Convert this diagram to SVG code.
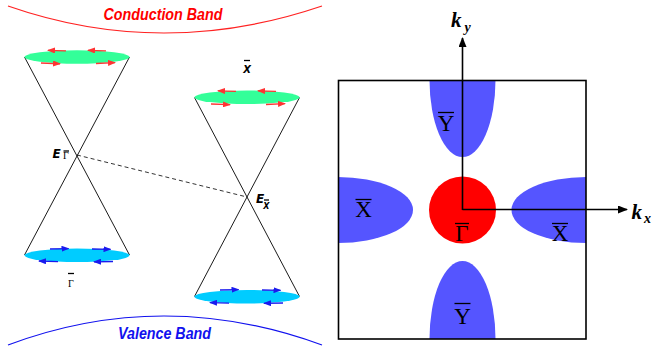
<svg xmlns="http://www.w3.org/2000/svg" width="652" height="352" viewBox="0 0 652 352">
<defs>
<marker id="hr" markerWidth="8" markerHeight="6" refX="7" refY="3" orient="auto" markerUnits="userSpaceOnUse"><path d="M0,0 L8,3 L0,6 Z" fill="#FF3333"/></marker>
<marker id="hb" markerWidth="8" markerHeight="6" refX="7" refY="3" orient="auto" markerUnits="userSpaceOnUse"><path d="M0,0 L8,3 L0,6 Z" fill="#1a1aee"/></marker>
<marker id="hk" markerWidth="10" markerHeight="8" refX="9" refY="4" orient="auto" markerUnits="userSpaceOnUse"><path d="M0,0 L10,4 L0,8 Z" fill="#000"/></marker>
</defs>
<style>
.cone{stroke:#000;stroke-width:0.9;fill:none}
.ra{stroke:#FF3333;stroke-width:1.3;fill:none;marker-end:url(#hr)}
.ba{stroke:#1a1aee;stroke-width:1.3;fill:none;marker-end:url(#hb)}
.green{fill:#33FF99}
.cyan{fill:#00CCFF}
.pocket{fill:#5555FF}
.band{font-family:"Liberation Sans",Arial,sans-serif;font-weight:bold;font-style:italic;font-size:17px;text-anchor:middle}
.el{font-family:"DejaVu Sans","Liberation Sans",sans-serif;font-weight:bold;font-style:italic;font-size:12px}
.sub{font-family:"Liberation Serif",serif;font-size:10px}
.bz{font-family:"Liberation Serif",serif;font-size:23px;text-anchor:middle}
.k{font-family:"Liberation Serif",serif;font-weight:bold;font-style:italic}
.bar{stroke:#000;stroke-width:1.3}
.ax{stroke:#000;stroke-width:1.6;fill:none;marker-end:url(#hk)}
</style>
<rect width="652" height="352" fill="#fff"/>

<g id="conduction-band">
<path d="M8,6 Q163,60 322,6" stroke="#FF2222" stroke-width="1.2" fill="none"/>
<text class="band" x="163" y="20" fill="#FF0000" textLength="119" lengthAdjust="spacingAndGlyphs">Conduction Band</text>
</g>
<g id="valence-band">
<path d="M8,345 Q163,287 322,345" stroke="#1111EE" stroke-width="1.2" fill="none"/>
<text class="band" x="164.5" y="339" fill="#1111EE" textLength="93" lengthAdjust="spacingAndGlyphs">Valence Band</text>
</g>

<g id="connectors">
<path class="cone" d="M24.5,57 L129.5,255"/>
<path class="cone" d="M129.5,57 L24.5,255"/>
<path class="cone" d="M194.5,97.5 L299.5,296.5"/>
<path class="cone" d="M299.5,97.5 L194.5,296.5"/>
<path d="M77,155 L247,197" stroke="#000" stroke-width="0.8" stroke-dasharray="4,3" fill="none"/>
</g>

<g id="gamma-upper">
<ellipse class="green" cx="77" cy="57" rx="52.5" ry="6.8"/>
<path class="ra" d="M66,50.8 L48,50.3"/>
<path class="ra" d="M106,50.8 L88,50.3"/>
<path class="ra" d="M41,63 L60,63.8"/>
<path class="ra" d="M96,63.5 L115,62.6"/>
</g>
<g id="gamma-lower">
<ellipse class="cyan" cx="77" cy="255.3" rx="52.5" ry="6.8"/>
<path class="ba" d="M50,249 L68.5,248.6"/>
<path class="ba" d="M92,249 L110.5,249.3"/>
<path class="ba" d="M58,261.7 L39,261"/>
<path class="ba" d="M113,261.5 L94,261.8"/>
<text class="sub" x="71" y="287" text-anchor="middle" font-size="13px">Γ</text>
<line class="bar" x1="68" y1="273.5" x2="74" y2="273.5" stroke-width="1"/>
</g>
<g id="x-upper">
<ellipse class="green" cx="247" cy="97.3" rx="52.5" ry="6.8"/>
<path class="ra" d="M236,91.3 L218,90.8"/>
<path class="ra" d="M276,91.3 L258,90.8"/>
<path class="ra" d="M211,104 L230,104.6"/>
<path class="ra" d="M266,104.5 L285,103.6"/>
<text x="247" y="72.5" font-family="'DejaVu Sans','Liberation Sans',sans-serif" font-weight="bold" font-style="italic" font-size="10px" text-anchor="middle">X</text>
<line class="bar" x1="244" y1="60.5" x2="250" y2="60.5" stroke-width="1"/>
</g>
<g id="x-lower">
<ellipse class="cyan" cx="247" cy="296.7" rx="52.5" ry="6.8"/>
<path class="ba" d="M220,290 L238.5,289.6"/>
<path class="ba" d="M262,290 L280.5,290.3"/>
<path class="ba" d="M229,303.2 L210,302.6"/>
<path class="ba" d="M283,303 L264,303.3"/>
</g>
<g id="e-gamma">
<text class="el" x="52.5" y="157.5">E</text>
<text class="sub" x="63" y="158.8" font-size="9px">Γ</text>
<line class="bar" x1="63.5" y1="151" x2="69" y2="151" stroke-width="0.9"/>
</g>
<g id="e-x">
<text class="el" x="256" y="202.8">E</text>
<text x="263.2" y="209.4" font-family="'DejaVu Sans',sans-serif" font-weight="bold" font-style="italic" font-size="8px">X</text>
<line class="bar" x1="264" y1="200" x2="269" y2="200" stroke-width="0.9"/>
</g>

<g id="brillouin-zone">
<path id="y-top" class="pocket" d="M429.5,80 A33,77 0 0 0 495.5,80 Z"/>
<path id="y-bottom" class="pocket" d="M429.5,339 A33,78 0 0 1 495.5,339 Z"/>
<path id="x-left" class="pocket" d="M338,177 A75,33 0 0 1 338,243 Z"/>
<path id="x-right" class="pocket" d="M586,177 A74.5,33 0 0 0 586,243 Z"/>
<circle id="gamma" cx="462.5" cy="210" r="33.5" fill="#FF0000"/>
<rect x="338.5" y="80.5" width="247.5" height="258.5" fill="none" stroke="#000" stroke-width="1.6"/>
</g>
<g id="axes">
<path class="ax" d="M462.5,210 L462.5,38"/>
<path class="ax" d="M462.5,209.5 L627,209.5"/>
<text class="k" x="451" y="27" font-size="21px">k</text>
<text class="k" x="464.5" y="32" font-size="14px">y</text>
<text class="k" x="631.5" y="219" font-size="21px">k</text>
<text class="k" x="644" y="222.5" font-size="14px">x</text>
</g>
<g id="labels">
<text class="bz" x="446" y="130.5">Y</text>
<line class="bar" x1="438" y1="112.5" x2="454" y2="112.5"/>
<text class="bz" x="462.5" y="324">Y</text>
<line class="bar" x1="454.5" y1="303.5" x2="470.5" y2="303.5"/>
<text class="bz" x="363.5" y="216.5">X</text>
<line class="bar" x1="355.5" y1="199.5" x2="371.5" y2="199.5"/>
<text class="bz" x="560" y="241">X</text>
<line class="bar" x1="552" y1="223.5" x2="568" y2="223.5"/>
<text class="bz" x="462" y="241">Γ</text>
<line class="bar" x1="455" y1="223.5" x2="469" y2="223.5"/>
</g>
</svg>
